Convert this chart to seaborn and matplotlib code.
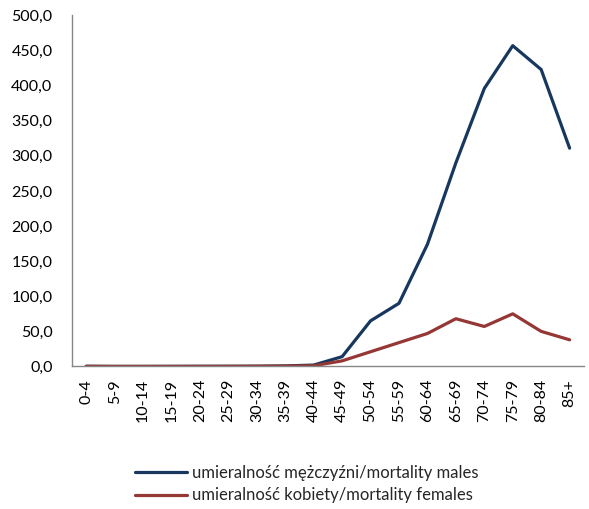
import matplotlib
matplotlib.use("Agg")
import matplotlib.pyplot as plt
import seaborn as sns
import pandas as pd
from matplotlib.ticker import FuncFormatter, FixedLocator

age_groups = ["0-4", "5-9", "10-14", "15-19", "20-24", "25-29", "30-34", "35-39", "40-44",
              "45-49", "50-54", "55-59", "60-64", "65-69", "70-74", "75-79", "80-84", "85+"]
males = [0.3, 0.1, 0.1, 0.2, 0.3, 0.3, 0.4, 0.8, 2.0,
         14.0, 65.0, 90.0, 174.0, 290.0, 396.0, 457.0, 423.0, 311.0]
females = [0.2, 0.1, 0.1, 0.1, 0.1, 0.2, 0.3, 0.5, 1.0,
           8.0, 21.0, 34.0, 47.0, 68.0, 57.0, 75.0, 50.0, 38.0]
label_m = "umieralność mężczyźni/mortality males"
label_f = "umieralność kobiety/mortality females"

df = pd.DataFrame({
    "pos": list(range(len(age_groups))) * 2,
    "value": males + females,
    "series": [label_m] * len(males) + [label_f] * len(females),
})

sns.set_style("white")
plt.rcParams["font.family"] = ["Lato", "DejaVu Sans"]

fig = plt.figure(figsize=(5.89, 5.09), dpi=100)
ax = fig.add_axes([0.1222, 0.280, 0.869, 0.6896])

sns.lineplot(data=df, x="pos", y="value", hue="series",
             palette={label_m: "#17375E", label_f: "#953735"},
             linewidth=2.3, ax=ax, legend=False)

ax.set_xlim(-0.5, len(age_groups) - 0.5)
ax.set_ylim(0, 500)
ax.set_yticks(range(0, 501, 50))
ax.yaxis.set_major_formatter(FuncFormatter(lambda v, p: f"{v:.1f}".replace(".", ",")))

ax.set_xticks(range(len(age_groups)))
ax.set_xticklabels(age_groups, rotation=90)
ax.xaxis.set_minor_locator(FixedLocator([i - 0.5 for i in range(len(age_groups) + 1)]))
ax.tick_params(axis="x", which="major", length=0, pad=9, labelsize=11.5, colors="black")
ax.tick_params(axis="x", which="minor", length=5, color="#868686", width=1)
ax.tick_params(axis="y", length=5, color="#868686", width=1, labelsize=11.5, pad=9,
               labelcolor="black")
ax.set_xlabel("")
ax.set_ylabel("")

for side in ["top", "right"]:
    ax.spines[side].set_visible(False)
for side in ["left", "bottom"]:
    ax.spines[side].set_color("#868686")
    ax.spines[side].set_linewidth(1)

handles = [plt.Line2D([], [], color="#17375E", linewidth=2.3),
           plt.Line2D([], [], color="#953735", linewidth=2.3)]
fig.legend(handles, [label_m, label_f], loc="center left",
           bbox_to_anchor=(0.229, 0.049), frameon=False, fontsize=12.0,
           handlelength=3.1, handletextpad=0.3, labelspacing=0.4,
           borderpad=0, borderaxespad=0)

fig.savefig("out.png", dpi=100)
